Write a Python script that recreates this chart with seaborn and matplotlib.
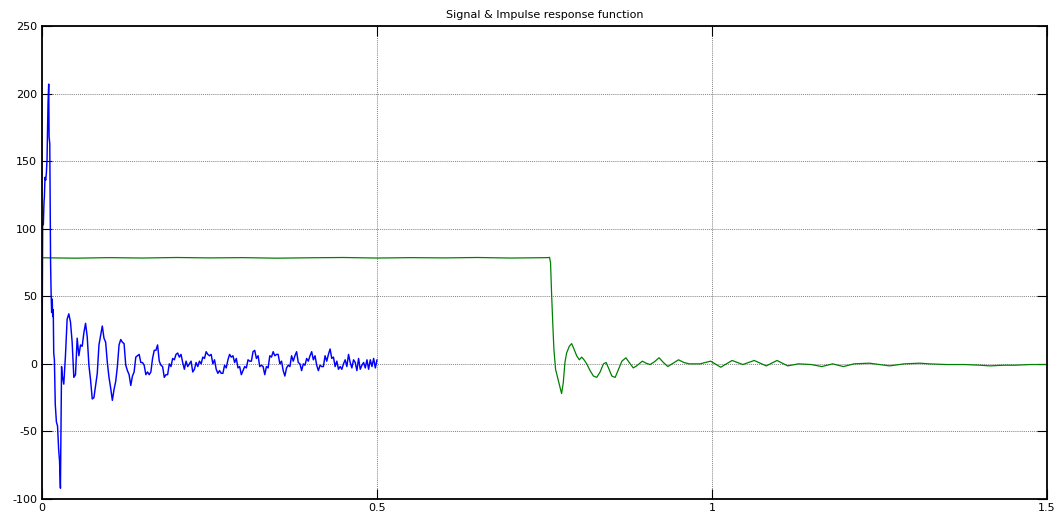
import numpy as np
import pandas as pd
import matplotlib
matplotlib.use("Agg")
import matplotlib.pyplot as plt
import seaborn as sns

# ---------------- data ----------------
title_text = "Signal & Impulse response function"
x_ticks = [0, 0.5, 1, 1.5]
x_tick_labels = ["0", "0.5", "1", "1.5"]
y_ticks = [-100, -50, 0, 50, 100, 150, 200, 250]
y_tick_labels = ["-100", "-50", "0", "50", "100", "150", "200", "250"]

# blue signal: fast transient (explicit time/value pairs)
signal_t_early = [0.0, 0.0005, 0.001, 0.002, 0.003, 0.0035, 0.0045, 0.0055, 0.0065,
                  0.0075, 0.008, 0.009, 0.010, 0.0106, 0.0116, 0.0128, 0.0136, 0.0144,
                  0.0152, 0.0160, 0.0168, 0.0175, 0.0185, 0.0198, 0.0215, 0.0232,
                  0.0248, 0.0262, 0.0275, 0.0284, 0.0292]
signal_y_early = [-12, 55, 105, 103, 120, 123, 138, 136, 141,
                  151, 166, 193, 207, 168, 163, 75, 52, 38,
                  48, 35, 40, 8, 3, -30, -43, -46,
                  -63, -72, -92, -44, -2]

# blue signal: rest, sampled every 0.0025 s from 0.030 s to 0.500 s
signal_t_start = 0.030
signal_dt = 0.0025
signal_y_late = [
    -8, -15, 6, 33, 37, 31, 16, -10, -8,
    19, 6, 14, 13, 23, 30, 20, -1, -12, -26,
    -25, -16, -7, 14, 21, 28, 19, 16, 1, -10,
    -18, -27, -19, -13, -2, 14, 18, 16, 15, -1,
    -5, -8, -16, -9, -6, 5, 6, 7, 1, 1,
    -1, -8, -6, -8, -6, 4, 10, 10, 14, 2,
    -1, -2, -10, -8, -8, 0, -2, 4, 3, 7,
    8, 5, 7, 1, -4, 2, -2, 0, 2, -6,
    -4, 1, -2, 2, 0, 5, 4, 9, 7, 6,
    7, 0, 3, -4, -7, -5, -7, -7, -1, -3,
    3, 7, 5, 6, 1, 4, -3, -2, -8, -5,
    -2, -3, 3, 2, 2, 9, 10, 4, 6, -2,
    -1, -2, -8, -2, -3, 6, 5, 9, 6, 7,
    7, 0, 2, -5, -9, -3, -1, -2, 6, 2,
    6, 9, 1, 0, -5, 0, -1, 4, 2, 6,
    9, 3, 6, -1, -5, -1, -2, -2, 6, 2,
    7, 11, 4, 5, -2, 2, -4, -2, -4, 0,
    3, -2, 7, 1, -3, 3, 1, -5, 4, -4,
    -1, 1, -3, 3, -4, 3, -2, 4, -3, 3,
]

# green impulse response (explicit time/value pairs)
response_t = [0.0, 0.05, 0.10, 0.15, 0.20, 0.25, 0.30, 0.35, 0.40, 0.45, 0.50,
              0.55, 0.60, 0.65, 0.70, 0.755, 0.7575, 0.759, 0.7605, 0.7625,
              0.764, 0.7665, 0.7685, 0.7715, 0.7755, 0.778, 0.7805, 0.783,
              0.787, 0.7905, 0.794, 0.798, 0.802, 0.8055, 0.809, 0.813, 0.818,
              0.823, 0.828, 0.833, 0.838, 0.842, 0.8455, 0.8505, 0.8555, 0.8605,
              0.8655, 0.8715, 0.8765, 0.8825, 0.8875, 0.896, 0.9015, 0.9076,
              0.914, 0.921, 0.9275, 0.934, 0.942, 0.950, 0.958, 0.966, 0.982,
              0.998, 1.013, 1.030, 1.046, 1.063, 1.081, 1.097, 1.113, 1.129,
              1.148, 1.164, 1.180, 1.196, 1.212, 1.235, 1.265, 1.287, 1.310,
              1.324, 1.350, 1.377, 1.400, 1.415, 1.435, 1.452, 1.475, 1.500]
response_y = [78.5, 78.2, 78.6, 78.3, 78.7, 78.4, 78.6, 78.2, 78.5, 78.7, 78.3,
              78.6, 78.4, 78.7, 78.3, 78.6, 78.8, 75, 53, 28,
              11, -4, -8, -14, -22, -14, 1, 8,
              13, 15, 11, 6, 3, 5, 3, 0, -5,
              -9, -10, -6, 0, 1, -3, -9, -10, -4,
              2, 4.5, 1, -3, -1.5, 2, 0.5, -0.5,
              1.5, 4.5, 1, -2, 0.5, 3, 1, 0, 0,
              2, -2.5, 2.5, -0.5, 2.5, -1.5, 2.5, -1.5, 0,
              -0.5, -2, 0, -2, 0, 0.5, -1.5, 0, 0.5,
              0, -0.5, -0.5, -1, -1.5, -1, -1, -0.5, -0.5]

# ---------------- build frames ----------------
late_t = signal_t_start + signal_dt * np.arange(len(signal_y_late))
signal_df = pd.DataFrame({
    "t": np.concatenate([signal_t_early, late_t]),
    "y": np.concatenate([signal_y_early, signal_y_late]),
})
response_df = pd.DataFrame({"t": response_t, "y": response_y})

# ---------------- plot ----------------
sns.set_theme(style="white")
plt.rcParams["font.family"] = ["DejaVu Sans"]

fig = plt.figure(figsize=(10.61, 5.17), dpi=100)
ax = fig.add_axes([42 / 1061, 18 / 517, 1005 / 1061, 473 / 517])

sns.lineplot(data=response_df, x="t", y="y", ax=ax, color="#008000",
             linewidth=0.9, estimator=None, sort=False)
sns.lineplot(data=signal_df, x="t", y="y", ax=ax, color="#0000ff",
             linewidth=1.05, estimator=None, sort=False)

ax.set_xlim(0, 1.5)
ax.set_ylim(-100, 250)
ax.set_xticks(x_ticks)
ax.set_xticklabels(x_tick_labels)
ax.set_yticks(y_ticks)
ax.set_yticklabels(y_tick_labels)
ax.set_xlabel("")
ax.set_ylabel("")

ax.grid(True, which="major", color="#555555", linestyle=(0, (1.5, 1.5)),
        linewidth=0.5)
ax.set_axisbelow(True)

ax.tick_params(axis="both", which="major", direction="in", length=7,
               width=0.8, color="black", labelsize=8, labelcolor="black",
               top=True, right=True, bottom=True, left=True)
ax.tick_params(axis="x", pad=3)
ax.tick_params(axis="y", pad=3.5)

for s in ax.spines.values():
    s.set_visible(True)
    s.set_color("black")
    s.set_linewidth(1.3)

ax.set_title(title_text, fontsize=8, pad=5.5, color="black")
ax.set_facecolor("white")
fig.patch.set_facecolor("white")

fig.savefig("out.png", dpi=100)
